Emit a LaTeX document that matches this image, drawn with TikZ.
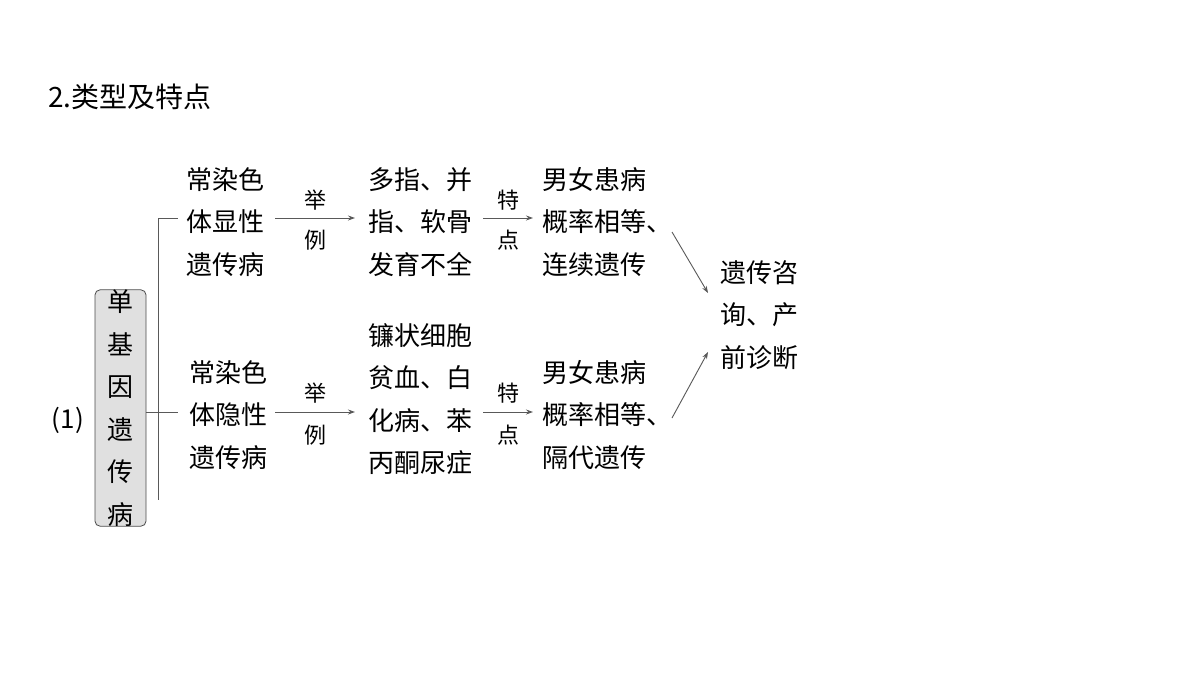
\documentclass[tikz,border=0pt]{standalone}
\usepackage{fontspec}
\setmainfont{Liberation Serif}
\newfontfamily\cjk{Noto Sans CJK SC}
\usetikzlibrary{arrows.meta}
\begin{document}
\begin{tikzpicture}[x=1pt,y=-1pt,
  txt/.style={font=\cjk\fontsize{26}{42.5}\selectfont,align=center,inner sep=0pt},
  txtl/.style={txt,align=left,anchor=west},
  lbl/.style={font=\cjk\fontsize{22}{22}\selectfont,inner sep=0pt},
  arr/.style={draw=black!65,line width=0.9pt,-{Stealth[length=7pt,width=5pt]}},
  ln/.style={draw=black!65,line width=0.9pt}]
\useasboundingbox (0,0) rectangle (1200,675);
\node[txt,anchor=west] (title) at (48,97) {\fontsize{28}{28}\selectfont 2.\cjk 类型及特点};
\node[txt] (n1) at (68,420) {\fontsize{26}{26}\selectfont (1)};
\node[txt,draw=black!70,fill=black!12,rounded corners=5pt,minimum width=51pt,minimum height=220pt,line width=0.8pt] (box) at (120.5,408) {单\\基\\因\\遗\\传\\病};
\coordinate (bt) at (158,218);
\coordinate (bb) at (158,500);
\coordinate (bm) at (158,412);
\draw[ln] (box.east |- bm) -- (bm);
\draw[ln] (bt) -- (bb);
\coordinate (bte) at (178,218);
\draw[ln] (bt) -- (bte);
\coordinate (bme) at (178,412);
\draw[ln] (bm) -- (bme);
% top row
\node[txt] (a1) at (225,222) {常染色\\体显性\\遗传病};
\node[txt] (b1) at (420,222) {多指、并\\指、软骨\\发育不全};
\node[txtl] (c1) at (542,222) {男女患病\\概率相等、\\连续遗传};
\coordinate (a1e) at (275,218); \coordinate (b1w) at (355,218);
\draw[arr] (a1e) -- (b1w);
\node[lbl] (j1) at (315,200) {举};
\node[lbl] (l1) at (315,240) {例};
\coordinate (b1e) at (483,218); \coordinate (c1w) at (533,218);
\draw[arr] (b1e) -- (c1w);
\node[lbl] (t1) at (508,200) {特};
\node[lbl] (d1) at (508,240) {点};
% bottom row
\node[txt] (a2) at (228,415) {常染色\\体隐性\\遗传病};
\node[txt] (b2) at (420,399) {镰状细胞\\贫血、白\\化病、苯\\丙酮尿症};
\node[txtl] (c2) at (542,415) {男女患病\\概率相等、\\隔代遗传};
\coordinate (a2e) at (275,412); \coordinate (b2w) at (355,412);
\draw[arr] (a2e) -- (b2w);
\node[lbl] (j2) at (315,393) {举};
\node[lbl] (l2) at (315,435) {例};
\coordinate (b2e) at (483,412); \coordinate (c2w) at (533,412);
\draw[arr] (b2e) -- (c2w);
\node[lbl] (t2) at (508,393) {特};
\node[lbl] (d2) at (508,435) {点};
% result
\node[txtl] (r) at (720,315) {遗传咨\\询、产\\前诊断};
\coordinate (c1x) at (672,232); \coordinate (r1) at (708,293);
\draw[arr] (c1x) -- (r1);
\coordinate (c2x) at (672,418); \coordinate (r2) at (708,352);
\draw[arr] (c2x) -- (r2);
\end{tikzpicture}
\end{document}
